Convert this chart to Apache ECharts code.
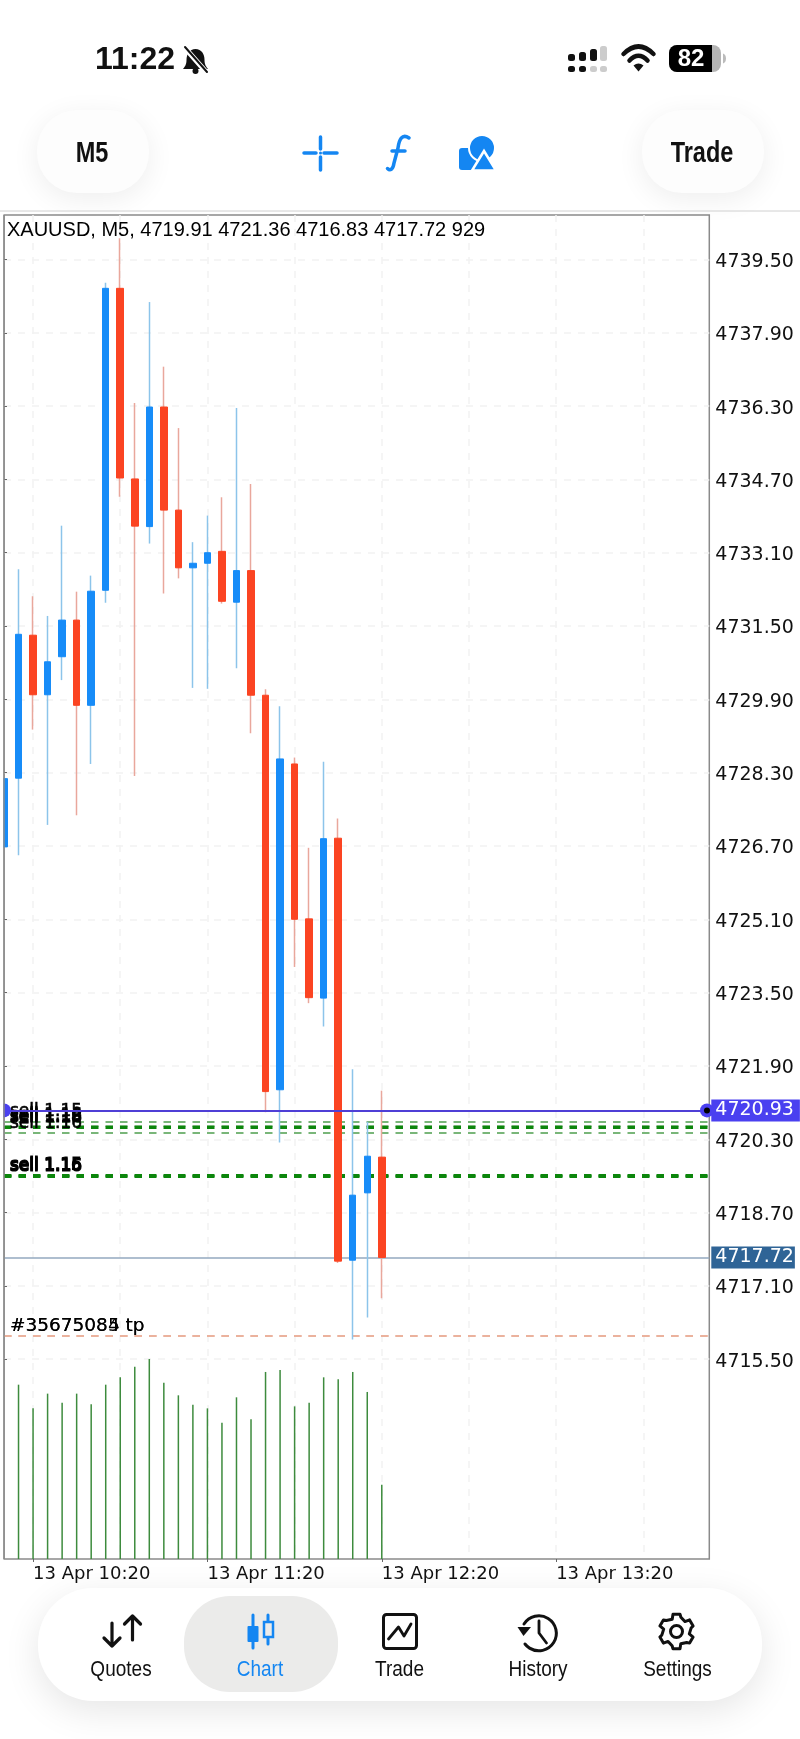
<!DOCTYPE html>
<html>
<head>
<meta charset="utf-8">
<title>XAUUSD M5</title>
<script src="https://cdn.jsdelivr.net/npm/echarts@6/dist/echarts.min.js"></script>
<style>
  html, body { margin: 0; padding: 0; background: #fff; }
  #chart { width: 800px; height: 1739px; }
</style>
</head>
<body>
<div id="chart"></div>
<script>
// candles, oldest first. index 2 is 13 Apr 10:20, one bar = 5 min
const opens = [4726.68, 4728.18, 4731.30, 4730.00, 4730.83, 4731.63, 4729.77, 4732.28, 4738.87, 4734.71, 4733.67, 4736.28, 4734.03, 4732.77, 4732.87, 4733.13, 4732.02, 4732.71, 4729.99, 4721.38, 4728.49, 4725.11, 4723.38, 4726.87, 4717.66, 4719.13, 4719.91];
const closes = [4728.17, 4731.32, 4730.00, 4730.72, 4731.63, 4729.77, 4732.26, 4738.87, 4734.73, 4733.68, 4736.28, 4734.03, 4732.77, 4732.87, 4733.10, 4732.04, 4732.71, 4729.99, 4721.34, 4728.60, 4725.10, 4723.39, 4726.86, 4717.64, 4719.08, 4719.93, 4717.72];
const lows = [4726.68, 4726.50, 4729.24, 4727.16, 4730.32, 4727.37, 4728.49, 4732.01, 4734.32, 4728.23, 4733.30, 4732.21, 4732.54, 4730.15, 4730.13, 4731.99, 4730.58, 4729.16, 4720.89, 4720.23, 4724.06, 4723.27, 4722.76, 4717.60, 4715.93, 4716.41, 4716.83];
const highs = [4728.17, 4732.74, 4732.15, 4731.72, 4733.69, 4732.25, 4732.60, 4738.99, 4739.96, 4736.37, 4738.57, 4737.16, 4735.82, 4733.33, 4733.91, 4734.31, 4736.26, 4734.60, 4730.12, 4729.75, 4728.63, 4726.66, 4728.54, 4727.30, 4721.83, 4720.68, 4721.36];
// first candle sits on the pane edge, its volume can't be seen
const volumes = [null, 2179, 1883, 2067, 1954, 2067, 1933, 2179, 2271, 2404, 2500, 2204, 2046, 1929, 1883, 1704, 2021, 1746, 2338, 2363, 1908, 1954, 2271, 2246, 2338, 2088, 929];

const priceTicks = [4715.5, 4717.1, 4718.7, 4720.3, 4721.9, 4723.5, 4725.1, 4726.7, 4728.3, 4729.9, 4731.5, 4733.1, 4734.7, 4736.3, 4737.9, 4739.5];
const timeTicks = [2, 14, 26, 38];
const timeLabels = ['13 Apr 10:20', '13 Apr 11:20', '13 Apr 12:20', '13 Apr 13:20'];
const halfHourTicks = [8, 20, 32, 44];

const askPrice = 4720.93;
const lastPrice = 4717.72;
const header = 'XAUUSD, M5, 4719.91 4721.36 4716.83 4717.72 929';

// trade levels and their labels
const lightLevels = [4720.69, 4720.60, 4720.44];
const lightLabels = ['sell 1.15', 'sell 1.16', 'sell 1.16'];
const darkLevels = [4720.56, 4719.51, 4719.50];
const darkLabels = ['sell 1.18', 'sell 1.15', 'sell 1.16'];
const tpLevels = [4716.01, 4716.01];
const tpLabels = ['#35675084 tp', '#35675085 tp'];

const tabNames = ['Quotes', 'Chart', 'Trade', 'History', 'Settings'];
const tabCenters = [121, 260, 399.5, 538, 677.5];

const BLUE = '#1486f2';
const INK = '#111';
const SANS = '"Liberation Sans", Arial, sans-serif';
const AXIS_FONT = '"DejaVu Sans", sans-serif';

const xMin = 0;
const xMax = 48.54;
const xs = opens.map((_, i) => i);

const wickData = xs.map(i => [i, opens[i], closes[i], lows[i], highs[i]]);
const bodyData = xs.map(i => [i, opens[i], closes[i], Math.min(opens[i], closes[i]), Math.max(opens[i], closes[i])]);

function levelLine(levels, labels, color, width, font, dist, heavy) {
  return {
    symbol: 'none',
    silent: true,
    animation: false,
    z: 1,
    lineStyle: { color, width, type: [7.5, 7], opacity: 1 },
    label: {
      show: true,
      position: 'insideStartTop',
      distance: [6, dist],
      color: '#000',
      fontFamily: AXIS_FONT,
      fontSize: font,
      textBorderColor: '#000',
      textBorderWidth: heavy,
      formatter: p => p.name,
    },
    data: levels.map((v, i) => ({ yAxis: v, name: labels[i] })),
  };
}

function priceTag(value, bg, padRight) {
  return {
    yAxis: value,
    label: {
      show: true,
      position: 'end',
      distance: 2,
      formatter: value.toFixed(2),
      color: '#fff',
      backgroundColor: bg,
      fontFamily: AXIS_FONT,
      fontSize: 19,
      padding: [2, padRight, 1, 4],
    },
  };
}

// ---- phone chrome, not data ----
let shapeCount = 0;
function svgType(d) {
  const name = 'icon' + shapeCount++;
  echarts.graphic.registerShape(name, echarts.graphic.extendPath(d, {}));
  return name;
}
function txt(x, y, text, size, weight, color, sy, sx) {
  return {
    type: 'text', z: 20,
    x, y,
    scaleX: sx || 1,
    scaleY: sy || 1,
    style: { x: 0, y: 0, text, fill: color || INK, fontFamily: SANS, fontSize: size, fontWeight: weight || 'normal', align: 'center', verticalAlign: 'middle' },
  };
}
function stroke(d, color, width) {
  return { type: svgType(d), z: 20, style: { fill: 'none', stroke: color || INK, lineWidth: width || 3, lineCap: 'round', lineJoin: 'round' } };
}
function solid(d, color) {
  return { type: svgType(d), z: 20, style: { fill: color || INK, stroke: 'none' } };
}
function box(x, y, w, h, r, fill, extra) {
  return { type: 'rect', z: 20, shape: { x, y, width: w, height: h, r }, style: Object.assign({ fill }, extra || {}) };
}
function gearPath(cx, cy) {
  let d = '';
  for (let i = 0; i < 6; i++) {
    const a = Math.PI / 2 + i * Math.PI / 3;
    const pt = (r, da) => (cx + r * Math.cos(a + da)).toFixed(1) + ' ' + (cy - r * Math.sin(a + da)).toFixed(1);
    d += (i ? 'L' : 'M') + pt(17.5, -0.2) + 'L' + pt(17.5, 0.2) + 'L' + pt(13, 0.34) + 'L' + pt(15, 0.75);
  }
  return d + 'Z';
}

const chrome = [
  // status bar
  txt(135, 60, '11:22', 32, 'bold'),
  solid('M195.5 49c-6 0-9 5-9 11c0 5-2 7-3.5 9h25c-1.5-2-3.5-4-3.5-9c0-6-3-11-9-11z'),
  { type: 'circle', z: 20, shape: { cx: 195.5, cy: 71, r: 3 }, style: { fill: INK } },
  stroke('M185 48L207 73', '#fff', 5),
  stroke('M185 47L207 72', INK, 2),
  box(568, 54, 7, 7, 2.5, INK), box(579, 52, 7, 9, 2.5, INK), box(590, 49, 7, 12, 2.5, INK), box(600, 46, 7, 15, 2.5, '#ccc'),
  box(568, 66, 7, 6, 2.5, INK), box(579, 66, 7, 6, 2.5, INK), box(590, 66, 7, 6, 2.5, '#ccc'), box(600, 66, 7, 6, 2.5, '#ccc'),
  stroke('M623.5 54Q638.5 39 653.5 54', INK, 4.5),
  stroke('M629.5 60.5Q638.5 51 647.5 60.5', INK, 4.5),
  solid('M633.5 65.5L638.5 71.5L643.5 65.5Q638.5 61.5 633.5 65.5Z'),
  box(669, 45, 52, 27, 8, '#b5b5b5'),
  box(669, 45, 43, 27, [8, 0, 0, 8], '#000'),
  solid('M723 53.5q3 1 3 5q0 4-3 5z', '#bbb'),
  txt(691, 59, '82', 24, 'bold', '#fff'),

  // toolbar
  box(37, 110, 112, 83, 40, '#fdfdfd', { shadowBlur: 28, shadowColor: 'rgba(0,0,0,0.07)', shadowOffsetY: 6 }),
  box(642, 110, 122, 83, 40, '#fdfdfd', { shadowBlur: 28, shadowColor: 'rgba(0,0,0,0.07)', shadowOffsetY: 6 }),
  txt(92, 154, 'M5', 25, 'bold', INK, 1.15, 0.94),
  txt(702, 154, 'Trade', 25, 'bold', INK, 1.15, 0.94),
  stroke('M304 153H316M324 153H337M320.5 137V149M320.5 157V170', BLUE, 3.5),
  { type: 'circle', z: 20, shape: { cx: 320.5, cy: 153, r: 1.5 }, style: { fill: BLUE } },
  stroke('M409 138C402 133 399 140 398 148L394 163C393 170 390 171 387.5 168.5M392 151H405', BLUE, 3.5),
  box(459, 148, 21, 22, [3, 0, 0, 3], BLUE),
  { type: 'circle', z: 20, shape: { cx: 482, cy: 148, r: 13 }, style: { fill: BLUE, stroke: '#fff', lineWidth: 2 } },
  { type: svgType('M484 151L496 170.5H472Z'), z: 20, style: { fill: BLUE, stroke: '#fff', lineWidth: 2.5 } },
  { type: 'line', z: 20, shape: { x1: 0, y1: 211, x2: 800, y2: 211 }, style: { stroke: '#d0d0d0', lineWidth: 1 } },

  // the first candle hangs over the pane edge, cut it off there
  { type: 'rect', z: 7, shape: { x: 0, y: 214, width: 3.3, height: 1346 }, style: { fill: '#fff' } },
  { type: 'line', z: 7, shape: { x1: 4, y1: 215, x2: 4, y2: 1559 }, style: { stroke: '#8a8a8a', lineWidth: 1.5 } },

  // tab bar
  box(38, 1588, 724, 113, 55, '#fff', { shadowBlur: 36, shadowColor: 'rgba(0,0,0,0.10)', shadowOffsetY: 10 }),
  box(184, 1596, 154, 96, 46, '#ebebea'),
  stroke('M112 1623V1646M104 1638L112 1646L120 1638M132.5 1640V1616M124.5 1624L132.5 1616L140.5 1624', INK, 3.2),
  stroke('M253 1615V1648M268 1615V1644', BLUE, 3),
  box(247.5, 1626, 11, 16, 1, BLUE),
  { type: 'rect', z: 20, shape: { x: 264, y: 1622, width: 9, height: 15 }, style: { fill: '#ebebea', stroke: BLUE, lineWidth: 2.5 } },
  { type: 'rect', z: 20, shape: { x: 383.5, y: 1614.5, width: 33, height: 34, r: 3 }, style: { fill: 'none', stroke: INK, lineWidth: 3 } },
  stroke('M388.5 1639L398.5 1627L404 1636L411 1624', INK, 2.8),
  stroke('M524 1624A17.5 17.5 0 1 1 525 1644', INK, 3),
  solid('M517.5 1627L531 1627L523.5 1636Z'),
  stroke('M539 1621V1633L546.5 1643', INK, 2.8),
  { type: svgType(gearPath(676.5, 1631.5)), z: 20, style: { fill: 'none', stroke: INK, lineWidth: 3, lineJoin: 'round' } },
  { type: 'circle', z: 20, shape: { cx: 676.5, cy: 1631.5, r: 6 }, style: { fill: 'none', stroke: INK, lineWidth: 3 } },
].concat(tabNames.map((n, i) => txt(tabCenters[i], 1670, n, 19, 'normal', i === 1 ? BLUE : INK, 1.14)));

const chart = echarts.init(document.getElementById('chart'));
chart.setOption({
  animation: false,
  backgroundColor: '#fff',
  title: {
    text: header,
    left: 7,
    top: 220.5,
    padding: 0,
    textStyle: { color: '#000', fontFamily: SANS, fontSize: 20, fontWeight: 'normal' },
  },
  grid: {
    show: true,
    left: 4,
    right: 90.7,
    top: 215,
    bottom: 180,
    borderColor: '#8a8a8a',
    borderWidth: 1.5,
    backgroundColor: '#fff',
  },
  xAxis: [
    {
      type: 'value',
      min: xMin,
      max: xMax,
      axisLine: { show: false },
      axisTick: { show: true, length: 3, customValues: timeTicks, lineStyle: { color: '#666', width: 1 } },
      axisLabel: {
        show: true,
        customValues: timeTicks,
        align: 'left',
        margin: 6,
        color: '#111',
        fontFamily: AXIS_FONT,
        fontSize: 18,
        formatter: v => timeLabels[timeTicks.indexOf(Math.round(v))],
      },
      splitLine: { show: true, lineStyle: { color: '#f2f2f2', width: 1.5, type: [7, 7] } },
    },
    {
      type: 'value',
      min: xMin,
      max: xMax,
      axisLine: { show: false },
      axisTick: { show: false, customValues: halfHourTicks },
      axisLabel: { show: false },
      splitLine: { show: true, lineStyle: { color: '#f2f2f2', width: 1.5, type: [7, 7] } },
    },
  ],
  yAxis: [
    {
      type: 'value',
      position: 'right',
      min: 4711.14,
      max: 4740.47,
      axisLine: { show: false },
      axisTick: { show: true, length: 3, customValues: priceTicks, lineStyle: { color: '#666', width: 1 } },
      axisLabel: {
        show: true,
        customValues: priceTicks,
        margin: 6,
        verticalAlign: 'top',
        lineHeight: 5,
        color: '#111',
        fontFamily: AXIS_FONT,
        fontSize: 19,
        formatter: v => v.toFixed(2),
      },
      splitLine: { show: true, lineStyle: { color: '#f2f2f2', width: 1.5, type: [7, 7] } },
    },
    {
      // volume sits in the bottom of the same pane
      type: 'value',
      position: 'left',
      min: 0,
      max: 16800,
      show: false,
      splitLine: { show: false },
    },
  ],
  series: [
    {
      name: 'Volume',
      type: 'bar',
      yAxisIndex: 1,
      barWidth: 1.5,
      silent: true,
      itemStyle: { color: '#3d8b3d' },
      data: xs.map(i => [i, volumes[i]]),
    },
    {
      name: 'wicks',
      type: 'candlestick',
      barWidth: 1,
      silent: true,
      itemStyle: { color: '#8cc4ea', color0: '#e9a79c', borderColor: '#8cc4ea', borderColor0: '#e9a79c', borderWidth: 1.5 },
      data: wickData,
      markLine: {
        symbol: 'none',
        silent: true,
        animation: false,
        z: 1,
        lineStyle: { color: '#93a9bf', width: 1.5, type: 'solid', opacity: 1 },
        data: [priceTag(lastPrice, '#2f6496', 1)],
      },
    },
    {
      name: 'bodies',
      type: 'candlestick',
      barWidth: 7,
      silent: true,
      itemStyle: { color: '#178cf8', color0: '#fb4422', borderColor: '#178cf8', borderColor0: '#fb4422', borderWidth: 1 },
      data: bodyData,
      markLine: {
        symbol: 'none',
        silent: true,
        animation: false,
        lineStyle: { color: '#4f3fd6', width: 2, type: 'solid', opacity: 1 },
        data: [priceTag(askPrice, '#4a40f0', 6)],
      },
    },
    // separate carriers so each group of levels keeps its own style
    { type: 'line', silent: true, data: [], markLine: levelLine(lightLevels, lightLabels, '#79b679', 2, 17, 1, 0.6) },
    { type: 'line', silent: true, data: [], markLine: levelLine(darkLevels, darkLabels, '#0c860c', 3, 17, 1, 1.2) },
    { type: 'line', silent: true, data: [], markLine: levelLine(tpLevels, tpLabels, '#ebb29d', 2, 18.5, 0, 0) },
    {
      name: 'ask ends',
      type: 'scatter',
      clip: false,
      silent: true,
      symbolSize: 14,
      z: 6,
      itemStyle: { color: '#4a40f0', opacity: 1 },
      data: [[xMin, askPrice], [48.38, askPrice]],
    },
    {
      name: 'ask end dot',
      type: 'scatter',
      silent: true,
      symbolSize: 6,
      z: 7,
      itemStyle: { color: '#000', opacity: 1 },
      data: [[48.38, askPrice]],
    },
  ],
  graphic: { elements: chrome },
});
</script>
</body>
</html>
